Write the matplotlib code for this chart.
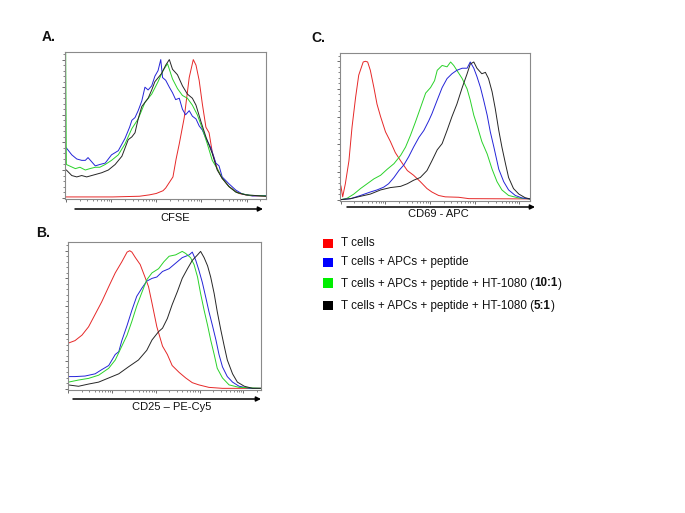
import matplotlib
matplotlib.use("Agg")
import matplotlib.pyplot as plt
from matplotlib.patches import FancyArrowPatch, Rectangle
from matplotlib.ticker import MultipleLocator, LogLocator, NullFormatter
import numpy as np

plt.rcParams['font.family'] = ['Liberation Sans', 'DejaVu Sans']

# ---------------- data (x = log10 fluorescence, y = % of max) ----------------
# Panel A: CFSE
A_red_x = [-0.02, 1.04, 1.63, 1.85, 2.0, 2.15, 2.21, 2.37, 2.44, 2.51, 2.62, 2.73, 2.82, 2.88, 2.95,
           3.02, 3.10, 3.17, 3.24, 3.35, 3.46, 3.61, 3.83, 4.06, 4.43]
A_red_y = [0.5, 0.5, 1, 2, 3, 5, 7, 15, 28, 39, 58, 87, 100, 96, 85, 68, 51, 47, 33, 21, 14, 8, 3, 1.5, 1]

A_blue_x = [0.01, 0.13, 0.24, 0.35, 0.43, 0.49, 0.57, 0.65, 0.75, 0.87, 1.01, 1.16, 1.31, 1.41, 1.46,
            1.53, 1.60, 1.68, 1.75, 1.82, 1.90, 1.97, 2.04, 2.10, 2.14, 2.21, 2.29, 2.36, 2.43, 2.51,
            2.58, 2.65, 2.73, 2.80, 2.88, 2.95, 3.02, 3.10, 3.21, 3.32, 3.39, 3.46, 3.61, 3.76, 3.90,
            4.13, 4.43]
A_blue_y = [36, 31, 28, 27, 27, 29, 26, 23, 24, 25, 31, 34, 43, 51, 56, 58, 63, 70, 80, 78, 81, 88, 92,
            100, 87, 85, 80, 76, 71, 72, 64, 60, 63, 59, 57, 52, 49, 43, 36, 25, 23, 15, 10, 5.5, 2.7,
            1.2, 1.5]

A_green_x = [-0.005, 0.01, 0.21, 0.31, 0.43, 0.53, 0.65, 0.75, 0.87, 1.01, 1.16, 1.31, 1.46, 1.60, 1.75,
             1.90, 2.04, 2.15, 2.25, 2.36, 2.47, 2.58, 2.69, 2.80, 2.91, 3.02, 3.13, 3.24, 3.35, 3.46,
             3.61, 3.79, 4.05, 4.43]
A_green_y = [106, 24, 21, 22, 20, 21, 22, 22, 24, 27, 31, 39, 50, 57, 69, 75, 84, 92, 97, 86, 79, 74, 72,
             67, 60, 50, 39, 27, 21, 14, 8, 3.6, 1.7, 1.2]

A_black_x = [0.01, 0.13, 0.24, 0.35, 0.46, 0.57, 0.68, 0.79, 0.94, 1.09, 1.24, 1.38, 1.46, 1.53, 1.60,
             1.68, 1.82, 1.90, 1.97, 2.12, 2.21, 2.29, 2.36, 2.47, 2.58, 2.69, 2.80, 2.88, 2.99, 3.10,
             3.24, 3.35, 3.46, 3.61, 3.76, 3.98, 4.43]
A_black_y = [20, 16, 15, 16, 15, 16, 17, 18, 20, 24, 30, 42, 44, 47, 57, 66, 72, 78, 84, 90, 96, 100, 93,
             89, 81, 75, 72, 67, 55, 44, 32, 20, 14, 8, 4, 2, 1]

# Panel B: CD25 - PE-Cy5
B_red_x = [-0.02, 0.15, 0.31, 0.46, 0.61, 0.76, 0.92, 1.07, 1.22, 1.34, 1.40, 1.45, 1.53, 1.64, 1.76,
           1.83, 1.91, 2.02, 2.15, 2.26, 2.37, 2.53, 2.68, 2.83, 2.98, 3.21, 3.52, 4.40]
B_red_y = [33, 35, 39, 45, 54, 63, 74, 84, 92, 99, 100, 99, 95, 90, 80, 74, 62, 45, 31, 25, 17, 12, 8,
           4.6, 3, 1.2, 0.5, 0.5]

B_blue_x = [-0.01, 0.15, 0.38, 0.61, 0.76, 0.92, 1.07, 1.15, 1.22, 1.34, 1.45, 1.56, 1.68, 1.79, 1.91,
            2.02, 2.15, 2.30, 2.45, 2.60, 2.76, 2.83, 2.91, 2.98, 3.06, 3.14, 3.21, 3.29, 3.37, 3.44,
            3.52, 3.63, 3.75, 3.90, 4.13, 4.40]
B_blue_y = [9, 9, 9.4, 11, 14, 17, 25, 27, 35, 46, 57, 67, 73, 78, 80, 81, 85, 87, 91, 95, 97, 99, 93,
            86, 77, 66, 56, 46, 35.5, 25, 16, 9, 5, 2, 0.5, 0.5]

B_green_x = [-0.005, 0.0, 0.23, 0.46, 0.69, 0.92, 1.07, 1.22, 1.34, 1.45, 1.56, 1.68, 1.79, 1.91, 2.06,
             2.18, 2.30, 2.45, 2.60, 2.68, 2.79, 2.87, 2.95, 3.02, 3.10, 3.18, 3.25, 3.33, 3.40, 3.52,
             3.67, 3.90, 4.40]
B_green_y = [106, 5, 6.5, 7.7, 10, 15, 21, 31, 39, 49, 60, 70, 79, 84, 87, 92, 96, 97, 99.5, 98, 95, 90,
             81, 69, 57, 46, 35.5, 25, 15, 8, 3, 1.2, 0.5]

B_black_x = [-0.01, 0.23, 0.46, 0.69, 0.92, 1.15, 1.37, 1.60, 1.79, 1.91, 2.06, 2.15, 2.26, 2.37, 2.49,
             2.60, 2.72, 2.83, 2.95, 3.02, 3.10, 3.18, 3.25, 3.33, 3.40, 3.48, 3.56, 3.63, 3.75, 3.86,
             4.02, 4.21, 4.40]
B_black_y = [3, 2, 3.6, 5, 8, 11, 16, 21, 28, 35.5, 41.5, 44, 51, 61, 70.5, 80, 87, 93, 97, 99.5, 95, 89,
             81, 69, 56, 43, 31, 21, 11, 5, 2, 0.5, 0.5]

# Panel C: CD69 - APC
C_red_x = [-0.02, 0.0, 0.04, 0.10, 0.18, 0.25, 0.33, 0.40, 0.50, 0.55, 0.60, 0.66, 0.74, 0.81, 0.89,
           1.0, 1.11, 1.22, 1.34, 1.49, 1.63, 1.78, 1.93, 2.04, 2.19, 2.34, 2.64, 2.87, 4.24]
C_red_y = [0.5, 10, 2, 11.5, 28, 52.5, 74, 90, 99.5, 100, 99.5, 93.5, 81, 69, 60, 49, 42, 34, 28, 21,
           17.6, 13, 8, 5.5, 3, 2, 1.7, 0.7, 0.5]

C_blue_x = [0.0, 0.22, 0.44, 0.66, 0.81, 0.96, 1.07, 1.19, 1.30, 1.41, 1.52, 1.63, 1.75, 1.86, 1.97,
            2.04, 2.16, 2.27, 2.38, 2.49, 2.60, 2.72, 2.83, 2.90, 2.98, 3.05, 3.13, 3.20, 3.28, 3.35,
            3.43, 3.54, 3.65, 3.76, 3.91, 4.06, 4.24]
C_blue_y = [0, 0.7, 3, 5.5, 7, 9, 11.5, 16, 21, 25, 31, 38, 45, 50, 57, 62, 72, 81, 87.5, 91, 93.5, 95,
            95, 99.5, 95, 89, 81, 72, 61, 49, 38, 22, 13, 7, 3, 1.2, 0.5]

C_green_x = [0.0, 0.14, 0.29, 0.44, 0.59, 0.74, 0.89, 1.04, 1.19, 1.34, 1.45, 1.56, 1.67, 1.78, 1.90,
             2.01, 2.10, 2.16, 2.27, 2.38, 2.46, 2.53, 2.60, 2.72, 2.83, 2.90, 2.98, 3.05, 3.16, 3.28,
             3.39, 3.50, 3.61, 3.76, 3.99, 4.24]
C_green_y = [0, 1, 4, 8, 11.5, 15, 17.6, 22, 26, 32, 38, 46.5, 56, 66, 77, 81, 86, 93.5, 97, 96, 99.5,
             97, 93.5, 87.5, 80, 72, 61, 54, 42, 33, 22, 13, 7, 3, 1.2, 0.5]

C_black_x = [0.0, 0.22, 0.44, 0.66, 0.89, 1.11, 1.34, 1.49, 1.63, 1.78, 1.93, 2.04, 2.16, 2.27, 2.38,
             2.49, 2.60, 2.72, 2.83, 2.90, 2.98, 3.05, 3.16, 3.24, 3.31, 3.39, 3.46, 3.54, 3.61, 3.69,
             3.76, 3.87, 3.99, 4.13, 4.24]
C_black_y = [0, 0.7, 2.4, 4, 7, 8.7, 9.6, 11.5, 14, 16, 21, 28, 36, 40.5, 50, 60, 69, 81, 91, 98, 99.5,
             95, 91, 92, 87.5, 78, 66, 50, 38, 26, 16, 8, 4, 1.4, 0.5]

panel_letters = ["A.", "B.", "C."]
axis_labels = ["CFSE", "CD25 \u2013 PE-Cy5", "CD69 - APC"]
legend_labels = ["T cells", "T cells + APCs + peptide",
                 ("T cells + APCs + peptide + HT-1080 (", "10:1", ")"),
                 ("T cells + APCs + peptide + HT-1080 (", "5:1", ")")]

line_colors = {"red": "#e62828", "blue": "#2424d8", "green": "#2ad22a", "black": "#262626"}
legend_colors = ["#ff0000", "#0000ff", "#00ee00", "#000000"]

# ---------------- figure ----------------
W, H = 685, 513
fig = plt.figure(figsize=(W / 100, H / 100), dpi=100)


def fx(x):
    return x / W


def fy(y):
    return 1 - y / H


def make_ax(l, t, r, b, xlim_dec, ylim):
    ax = fig.add_axes([fx(l), fy(b), (r - l) / W, (b - t) / H])
    ax.set_xscale('log')
    ax.set_xlim(10 ** xlim_dec[0], 10 ** xlim_dec[1])
    ax.set_ylim(*ylim)
    ax.xaxis.set_major_locator(LogLocator(base=10, numticks=20))
    ax.xaxis.set_minor_locator(LogLocator(base=10, subs=np.arange(2, 10), numticks=20))
    ax.xaxis.set_major_formatter(NullFormatter())
    ax.xaxis.set_minor_formatter(NullFormatter())
    ax.yaxis.set_major_locator(MultipleLocator(20))
    ax.yaxis.set_minor_locator(MultipleLocator(4))
    ax.yaxis.set_major_formatter(NullFormatter())
    ax.tick_params(which='major', direction='out', length=2.2, width=0.6, color='#555555',
                   top=False, right=False)
    ax.tick_params(which='minor', direction='out', length=1.1, width=0.5, color='#555555',
                   top=False, right=False)
    for s in ax.spines.values():
        s.set_color('#8a8a8a')
        s.set_linewidth(0.8)
    return ax


def draw(ax, xs, ys, c):
    ax.plot(10 ** np.asarray(xs, dtype=float), ys, color=line_colors[c], lw=0.7, clip_on=True)


axA = make_ax(65, 52, 266, 199, (-0.02, 4.43), (-1, 105.5))
draw(axA, A_red_x, A_red_y, "red")
draw(axA, A_blue_x, A_blue_y, "blue")
draw(axA, A_green_x, A_green_y, "green")
draw(axA, A_black_x, A_black_y, "black")

axB = make_ax(68, 242, 261, 390, (-0.01, 4.40), (-0.7, 106.3))
draw(axB, B_red_x, B_red_y, "red")
draw(axB, B_blue_x, B_blue_y, "blue")
draw(axB, B_green_x, B_green_y, "green")
draw(axB, B_black_x, B_black_y, "black")

axC = make_ax(340, 53, 530, 201, (-0.02, 4.24), (-1, 106))
draw(axC, C_red_x, C_red_y, "red")
draw(axC, C_green_x, C_green_y, "green")
draw(axC, C_blue_x, C_blue_y, "blue")
draw(axC, C_black_x, C_black_y, "black")

# arrows and axis labels
arrows = [(75, 263, 209), (73, 261, 399), (347, 535, 207)]
label_pos = [(175, 218), (172, 407), (438, 214)]
for (x1, x2, y), (lx, ly), lab in zip(arrows, label_pos, axis_labels):
    arr = FancyArrowPatch((fx(x1), fy(y)), (fx(x2), fy(y)), transform=fig.transFigure,
                          arrowstyle='-|>', mutation_scale=7, lw=1.1, color='black',
                          shrinkA=0, shrinkB=0)
    fig.patches.append(arr)
    fig.text(fx(lx), fy(ly), lab, ha='center', va='center', fontsize=8, color='#111111')

# panel letters
for (px, py), letter in zip([(42, 37), (36, 233), (311, 38)], panel_letters):
    fig.text(fx(px), fy(py), letter, ha='left', va='center', fontsize=10, fontweight='bold',
             color='#111111')

# legend
sq_rows = [(239.3, 248.3), (258.3, 266.7), (278.3, 288.3), (301, 310)]
txt_y = [243.5, 262.5, 283.5, 306]
renderer = fig.canvas.get_renderer()
for (t, b), ty, col, lab in zip(sq_rows, txt_y, legend_colors, legend_labels):
    fig.patches.append(Rectangle((fx(323), fy(b)), 10 / W, (b - t) / H, transform=fig.transFigure,
                                 facecolor=col, edgecolor='none'))
    if isinstance(lab, str):
        fig.text(fx(341), fy(ty), lab, ha='left', va='center', fontsize=8.4, color='#111111')
    else:
        x = fx(341)
        for part, weight in zip(lab, ['normal', 'bold', 'normal']):
            tt = fig.text(x, fy(ty), part, ha='left', va='center', fontsize=8.4, fontweight=weight,
                          color='#111111')
            bb = tt.get_window_extent(renderer=renderer)
            x = x + bb.width / (W)

fig.savefig("out.png", dpi=100, facecolor='white')
